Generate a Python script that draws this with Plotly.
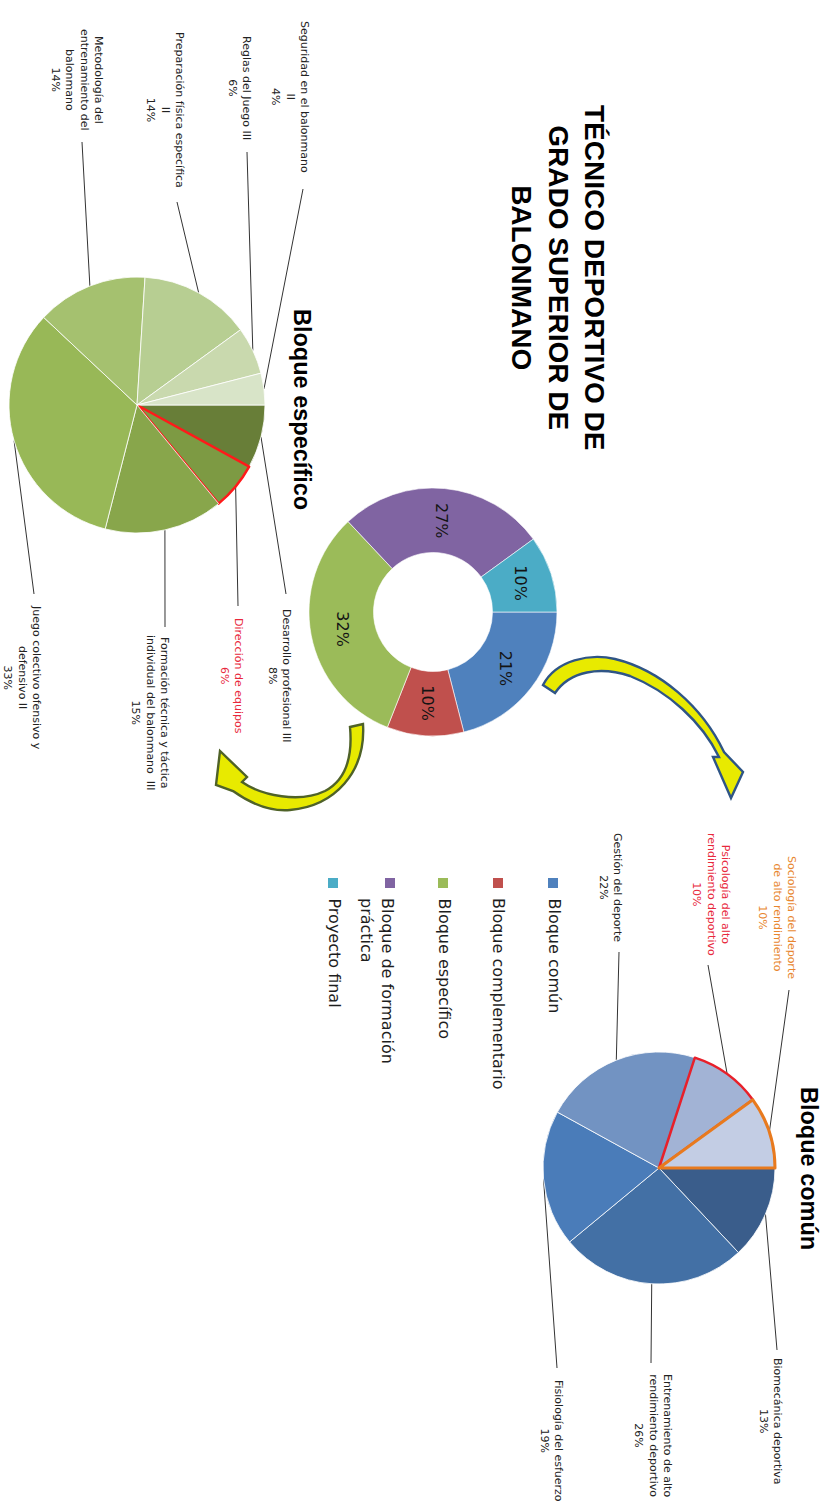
import numpy as np
import plotly.graph_objects as go

W, H = 829, 1508

# ---- data -------------------------------------------------------------
bloques = ["Bloque común", "Bloque complementario", "Bloque específico",
           "Bloque de formación<br>práctica", "Proyecto final"]
bloques_pct = [21, 10, 32, 27, 10]
bloques_col = ["#4F81BD", "#C0504D", "#9BBB59", "#8064A2", "#4BACC6"]

esp_mod = ["Desarrollo profesional III",
           "Dirección de equipos",
           "Formación técnica y táctica<br>individual del balonmano  III",
           "Juego colectivo ofensivo y<br>defensivo II",
           "Metodología del<br>entrenamiento del<br>balonmano",
           "Preparación física específica<br>II",
           "Reglas del Juego III",
           "Seguridad en el balonmano<br>II"]
esp_pct = [8, 6, 15, 33, 14, 14, 6, 4]

com_mod = ["Biomecánica deportiva",
           "Entrenamiento de alto<br>rendimiento deportivo",
           "Fisiología del esfuerzo",
           "Gestión del deporte",
           "Psicología del alto<br>rendimiento deportivo",
           "Sociología del deporte<br>de alto rendimiento"]
com_pct = [13, 26, 19, 22, 10, 10]

# ---- styling / layout -------------------------------------------------
esp_col = ["#687E38", "#7D9A43", "#88A64B", "#98B857", "#A5C16F",
           "#B7CE92", "#C9D9AE", "#D8E4C8"]
esp_line_col = ["white", "#FF1A1A", "white", "white", "white", "white", "white", "white"]
esp_line_w = [0.8, 2.5, 0.8, 0.8, 0.8, 0.8, 0.8, 0.8]
esp_txt_col = ["#222222", "#E8283C", "#222222", "#222222", "#222222",
               "#222222", "#222222", "#222222"]

com_col = ["#3A5D8B", "#4370A5", "#4A7CB9", "#7293C2", "#A2B3D5", "#C3CDE4"]
com_line_col = ["white", "white", "white", "white", "#E8202A", "#E87A1E"]
com_line_w = [0.8, 0.8, 0.8, 0.8, 2.5, 3]
com_txt_col = ["#222222", "#222222", "#222222", "#222222", "#E8283C", "#E8862E"]

ROT = 90          # first slice starts at 3 o'clock
DONUT = dict(cx=433, cy=612, r=124, hole=0.48)
ESP = dict(cx=137, cy=405, r=128)
COM = dict(cx=659, cy=1168, r=116)

# label block centres and leader anchor points (pixels)
esp_lab_pos = [(280, 676), (232, 676), (150, 713), (22, 677),
               (77, 80), (165, 110), (240, 88), (290, 97)]
esp_anchor = [(286, 594), (238, 606), (165, 627), (34, 594),
              (82, 142), (177, 202), (247, 152), (303, 189)]
com_lab_pos = [(771, 1421), (653, 1435), (552, 1441), (611, 887),
               (711, 894), (777, 917)]
com_anchor = [(777, 1350), (651, 1363), (557, 1368), (619, 952),
              (708, 965), (789, 990)]

LABEL_FONT = "DejaVu Sans"


def domain(cx, cy, r):
    return dict(x=[(cx - r) / W, (cx + r) / W], y=[1 - (cy + r) / H, 1 - (cy - r) / H])


def mid_angles(values):
    v = np.asarray(values, dtype=float)
    cum = np.cumsum(v) - v / 2
    return np.deg2rad(ROT + 360 * cum / v.sum())


def polar(cx, cy, r, a):
    return cx + r * np.sin(a), cy - r * np.cos(a)


fig = go.Figure()

# ---- pies -------------------------------------------------------------
fig.add_trace(go.Pie(
    labels=bloques, values=bloques_pct, hole=DONUT["hole"], sort=False,
    direction="clockwise", rotation=ROT, textinfo="none", hoverinfo="skip",
    marker=dict(colors=bloques_col, line=dict(color="white", width=0.6)),
    domain=domain(DONUT["cx"], DONUT["cy"], DONUT["r"]), showlegend=False))

fig.add_trace(go.Pie(
    labels=esp_mod, values=esp_pct, sort=False, direction="clockwise",
    rotation=ROT, textinfo="none", hoverinfo="skip",
    marker=dict(colors=esp_col, line=dict(color=esp_line_col, width=esp_line_w)),
    domain=domain(ESP["cx"], ESP["cy"], ESP["r"]), showlegend=False))

fig.add_trace(go.Pie(
    labels=com_mod, values=com_pct, sort=False, direction="clockwise",
    rotation=ROT, textinfo="none", hoverinfo="skip",
    marker=dict(colors=com_col, line=dict(color=com_line_col, width=com_line_w)),
    domain=domain(COM["cx"], COM["cy"], COM["r"]), showlegend=False))

annotations = []

# percentages inside the donut
r_mid = DONUT["r"] * (1 + DONUT["hole"]) / 2
for a, p in zip(mid_angles(bloques_pct), bloques_pct):
    x, y = polar(DONUT["cx"], DONUT["cy"], r_mid, a)
    annotations.append(dict(x=x, y=y, xref="x", yref="y", text=f"{p}%",
                            showarrow=False, textangle=90,
                            font=dict(family=LABEL_FONT, size=16, color="#141414")))


def leader_labels(names, pcts, centre, lab_pos, anchors, txt_cols):
    for a, name, p, (tx, ty), (ax, ay), c in zip(mid_angles(pcts), names, pcts,
                                                  lab_pos, anchors, txt_cols):
        x0, y0 = polar(centre["cx"], centre["cy"], centre["r"], a)
        fig.add_trace(go.Scatter(x=[x0, ax], y=[y0, ay], mode="lines",
                                 line=dict(color="#333333", width=1),
                                 hoverinfo="skip", showlegend=False))
        annotations.append(dict(x=tx, y=ty, xref="x", yref="y",
                                text=f"{name}<br>{p}%", showarrow=False,
                                textangle=90, align="center",
                                font=dict(family=LABEL_FONT, size=11, color=c)))


leader_labels(esp_mod, esp_pct, ESP, esp_lab_pos, esp_anchor, esp_txt_col)
leader_labels(com_mod, com_pct, COM, com_lab_pos, com_anchor, com_txt_col)

# ---- legend (rotated) -------------------------------------------------
leg_x = [553, 498, 443, 390, 333]
leg_text_x = [554, 499, 444, 377, 334]
fig.add_trace(go.Scatter(x=leg_x, y=[883] * len(leg_x), mode="markers",
                         marker=dict(symbol="square", size=10, color=bloques_col),
                         hoverinfo="skip", showlegend=False))
for tx, name in zip(leg_text_x, bloques):
    annotations.append(dict(x=tx, y=896, xref="x", yref="y", text=name,
                            showarrow=False, textangle=90, align="left",
                            xanchor="center", yanchor="top",
                            font=dict(family=LABEL_FONT, size=16, color="#1E1E1E")))

# ---- titles -----------------------------------------------------------
annotations.append(dict(x=558, y=277, xref="x", yref="y",
                        text="TÉCNICO DEPORTIVO DE<br>GRADO SUPERIOR DE<br>BALONMANO",
                        showarrow=False, textangle=90, align="center",
                        font=dict(family="Liberation Sans", size=28, color="black",
                                  weight="bold")))
annotations.append(dict(x=302, y=409, xref="x", yref="y", text="<b>Bloque específico</b>",
                        showarrow=False, textangle=90,
                        font=dict(family="Liberation Sans", size=23.5, color="black")))
annotations.append(dict(x=809, y=1168, xref="x", yref="y", text="<b>Bloque común</b>",
                        showarrow=False, textangle=90,
                        font=dict(family="Liberation Sans", size=23.5, color="black")))

# ---- curved block arrows ---------------------------------------------
arrow_green = ("M350,727 L363,724 C366,772 335,806 290,810 C266,812 247,801 233,791 "
               "L216,785 L220,751 L247,777 L242,782 C262,796 300,803 325,791 "
               "C344,781 353,760 350,727 Z")
arrow_blue = ("M555,693 L543,685 C556,660 590,653 615,659 C660,670 702,706 724,752 "
              "L743,772 L731,798 L713,757 L719,757 C702,722 668,691 630,676 "
              "C600,666 570,671 555,693 Z")
shapes = [
    dict(type="path", path=arrow_green, xref="x", yref="y", fillcolor="#E8EA00",
         line=dict(color="#4F6228", width=2.4), layer="above"),
    dict(type="path", path=arrow_blue, xref="x", yref="y", fillcolor="#E8EA00",
         line=dict(color="#2F5586", width=2.4), layer="above"),
]

fig.update_layout(
    width=W, height=H, autosize=False,
    margin=dict(l=0, r=0, t=0, b=0),
    paper_bgcolor="white", plot_bgcolor="white",
    xaxis=dict(range=[0, W], visible=False, fixedrange=True, domain=[0, 1]),
    yaxis=dict(range=[H, 0], visible=False, fixedrange=True, domain=[0, 1]),
    annotations=annotations, shapes=shapes, showlegend=False,
)

fig.write_html("out.html", config={"displayModeBar": False})
